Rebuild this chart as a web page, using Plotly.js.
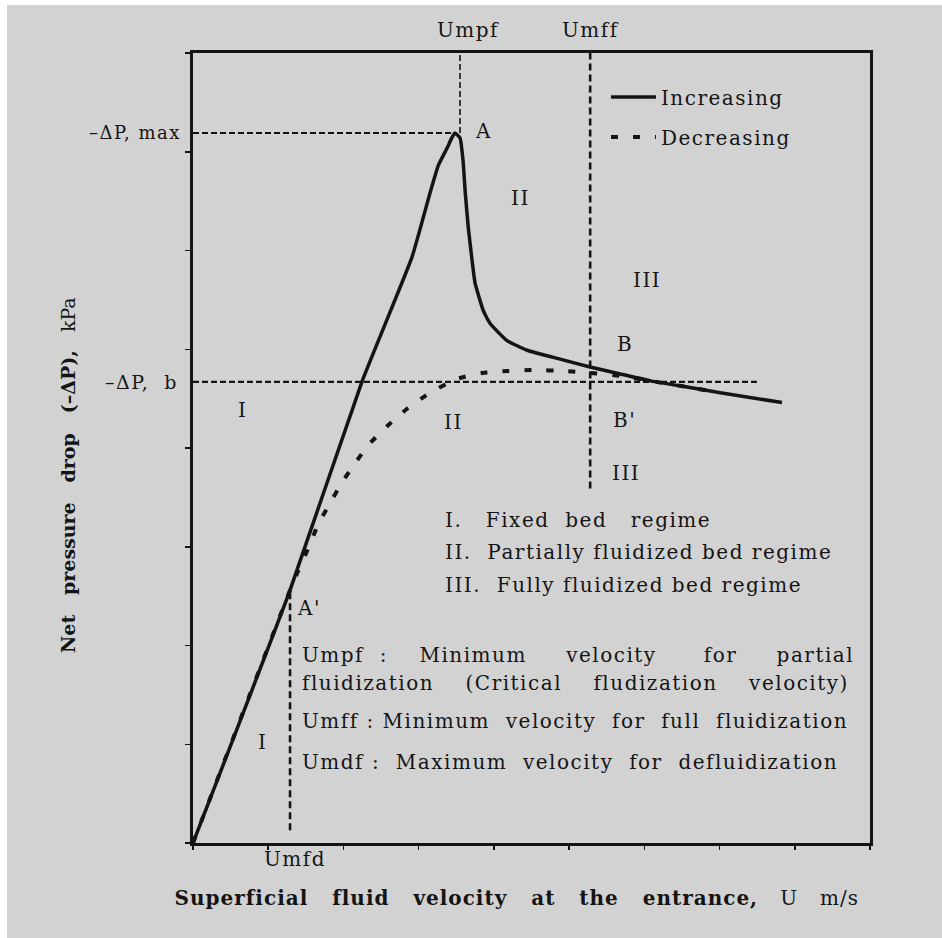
<!DOCTYPE html>
<html>
<head>
<meta charset="utf-8">
<script src="https://cdn.plot.ly/plotly-3.0.1.min.js"></script>
<style>
html,body{margin:0;padding:0;background:#ffffff;}
#chart{position:absolute;left:7px;top:5px;width:935px;height:933px;}
.annotation-text, .legendtext { letter-spacing: 1.5px; }
.xtitle { letter-spacing: 1px; }
</style>
</head>
<body>
<div id="chart"></div>
<script>
// Increasing velocity curve (solid)
const incVelocity = [0, 1.29, 2.25, 2.91, 3.15, 3.26, 3.38, 3.44, 3.48, 3.55, 3.59, 3.62, 3.66, 3.71, 3.75, 3.86, 3.95, 4.17, 4.44, 4.88, 5.28, 5.68, 6.08, 6.47, 7.01, 7.83];
const incPressure = [0, 2.56, 4.68, 5.93, 6.58, 6.86, 7.04, 7.14, 7.19, 7.14, 6.91, 6.58, 6.23, 5.90, 5.67, 5.39, 5.26, 5.09, 4.99, 4.90, 4.82, 4.75, 4.68, 4.63, 4.56, 4.46];
// Decreasing velocity curve (dotted)
const decVelocity = [0, 1.29, 1.40, 1.53, 1.66, 1.82, 1.98, 2.13, 2.33, 2.58, 2.85, 3.15, 3.51, 3.84, 4.19, 4.55, 4.91, 5.28, 5.68, 6.08, 6.47, 7.01];
const decPressure = [0, 2.56, 2.76, 2.98, 3.22, 3.44, 3.65, 3.82, 4.03, 4.22, 4.40, 4.56, 4.70, 4.76, 4.78, 4.79, 4.78, 4.76, 4.73, 4.68, 4.63, 4.56];
// Characteristic velocities: Umfd, Umpf, Umff
const charVelNames = ['Umfd', 'Umpf', 'Umff'];
const charVelValues = [1.29, 3.55, 5.28];
// Characteristic pressure drops: b, max
const charPressNames = ['\u2013\u0394P,\u00A0\u00A0b', '\u2013\u0394P, max'];
const charPressValues = [4.67, 7.19];
// Axis ticks
const xTicks = [0, 1, 2, 3, 4, 5, 6, 7, 8, 9];
const yTicks = [0, 1, 2, 3, 4, 5, 6, 7, 8];

const SERIF = 'DejaVu Serif, Liberation Serif, serif';
const INK = '#141414';
const nb = n => '\u00A0'.repeat(n);
const pad = n => nb(n) + '<span style="color:rgba(0,0,0,0)">.</span>';
const sp = (s, n) => s.split(' ').join(nb(n));

const traces = [
  {x: incVelocity, y: incPressure, type: 'scatter', mode: 'lines', name: 'Increasing',
   line: {color: INK, width: 3.5, shape: 'spline', smoothing: 0.4}, legendgroup: 'a'},
  {x: decVelocity, y: decPressure, type: 'scatter', mode: 'lines', name: 'Decreasing',
   line: {color: INK, width: 4, dash: '7px,15px', shape: 'spline', smoothing: 0.4}, legendgroup: 'b'}
];

const [uMfd, uMpf, uMff] = charVelValues;
const [pB, pMax] = charPressValues;
const dashRef = {color: INK, width: 2.2, dash: '6px,3px'};
const shapes = [
  {type: 'line', xref: 'x', yref: 'y', x0: uMpf, x1: uMpf, y0: pMax, y1: 8, line: {color: INK, width: 1.6, dash: '6px,3px'}},
  {type: 'line', xref: 'x', yref: 'y', x0: uMff, x1: uMff, y0: 3.59, y1: 8, line: {color: INK, width: 2.6, dash: '7px,4px'}},
  {type: 'line', xref: 'x', yref: 'y', x0: uMfd, x1: uMfd, y0: 0.13, y1: 2.56, line: {color: INK, width: 2.6, dash: '7px,4px'}},
  {type: 'line', xref: 'x', yref: 'y', x0: 0, x1: 3.48, y0: pMax, y1: pMax, line: dashRef},
  {type: 'line', xref: 'x', yref: 'y', x0: 0, x1: 7.50, y0: pB, y1: pB, line: dashRef}
];

const ann = (text, x, y, opts = {}) => Object.assign({
  text, x, y, xref: 'x', yref: 'y', showarrow: false,
  xanchor: 'center', yanchor: 'middle',
  font: {family: SERIF, size: 20, color: INK}
}, opts);

const annotations = [
  ann(charVelNames[1], 3.66, 1.029, {yref: 'paper'}),
  ann(charVelNames[2], 5.28, 1.029, {yref: 'paper'}),
  ann(charVelNames[0], 1.36, -0.020, {yref: 'paper'}),
  ann(charPressNames[1], -0.0145, pMax, {xref: 'paper', xanchor: 'right', font: {family: SERIF, size: 18, color: INK}}),
  ann(charPressNames[0], -0.019, pB, {xref: 'paper', xanchor: 'right', font: {family: SERIF, size: 19, color: INK}}),
  ann('A', 3.86, 7.21),
  ann('II', 4.35, 6.53),
  ann('III', 6.04, 5.70),
  ann('B', 5.74, 5.05),
  ann('I', 0.66, 4.38),
  ann('II', 3.46, 4.26),
  ann("B'", 5.74, 4.28),
  ann('III', 5.76, 3.75),
  ann('I.' + nb(3) + 'Fixed' + nb(2) + 'bed' + nb(3) + 'regime', 3.32, 3.27, {xanchor: 'left'}),
  ann('II.' + nb(2) + 'Partially' + nb(1) + 'fluidized' + nb(1) + 'bed' + nb(1) + 'regime', 3.32, 2.95, {xanchor: 'left'}),
  ann('III.' + nb(2) + 'Fully' + nb(1) + 'fluidized' + nb(1) + 'bed' + nb(1) + 'regime', 3.32, 2.61, {xanchor: 'left'}),
  ann("A'", 1.36, 2.38, {xanchor: 'left'}),
  ann('Umpf' + nb(2) + ':' + nb(4) + 'Minimum' + nb(5) + 'velocity' + nb(6) + 'for' + nb(5) + 'partial', 1.42, 1.90, {xanchor: 'left'}),
  ann(sp('fluidization (Critical fludization velocity)', 4), 1.42, 1.62, {xanchor: 'left'}),
  ann('Umff' + nb(1) + ':' + nb(1) + 'Minimum' + nb(2) + 'velocity' + nb(2) + 'for' + nb(2) + 'full' + nb(2) + 'fluidization', 1.42, 1.24, {xanchor: 'left'}),
  ann('Umdf' + nb(1) + ':' + nb(2) + 'Maximum' + nb(2) + 'velocity' + nb(2) + 'for' + nb(2) + 'defluidization', 1.42, 0.82, {xanchor: 'left'}),
  ann('I', 0.92, 1.02)
];

const layout = {
  width: 935, height: 933,
  margin: {l: 186, r: 72, t: 48, b: 95},
  paper_bgcolor: '#d2d2d2',
  plot_bgcolor: '#d2d2d2',
  showlegend: true,
  legend: {
    x: 0.61, y: 0.969, xanchor: 'left', yanchor: 'top',
    bgcolor: 'rgba(0,0,0,0)', borderwidth: 0,
    font: {family: SERIF, size: 20, color: INK},
    itemwidth: 45, tracegroupgap: 11, traceorder: 'grouped'
  },
  xaxis: {
    range: [0, 9], tickvals: xTicks, showticklabels: false,
    ticks: 'outside', ticklen: 4, tickwidth: 1.5, tickcolor: INK,
    showline: true, linecolor: INK, linewidth: 3, mirror: true,
    showgrid: false, zeroline: false, fixedrange: true,
    title: {
      text: '<b>' + sp('Superficial fluid velocity at the entrance,', 3) + '</b>' + nb(3) + 'U' + nb(3) + 'm/s' + pad(3),
      font: {family: SERIF, size: 20, color: INK}, standoff: 42
    }
  },
  yaxis: {
    range: [0, 8], tickvals: yTicks, showticklabels: false,
    ticks: 'outside', ticklen: 5, tickwidth: 1.5, tickcolor: INK,
    showline: true, linecolor: INK, linewidth: 3, mirror: true,
    showgrid: false, zeroline: false, fixedrange: true,
    title: {
      text: '<b>' + sp('Net pressure drop (\u2013\u0394P),', 3) + '</b>' + nb(3) + 'kPa' + pad(8),
      font: {family: SERIF, size: 19, color: INK}, standoff: 105
    }
  },
  shapes, annotations
};

Plotly.newPlot('chart', traces, layout, {displayModeBar: false, staticPlot: true});
</script>
</body>
</html>
